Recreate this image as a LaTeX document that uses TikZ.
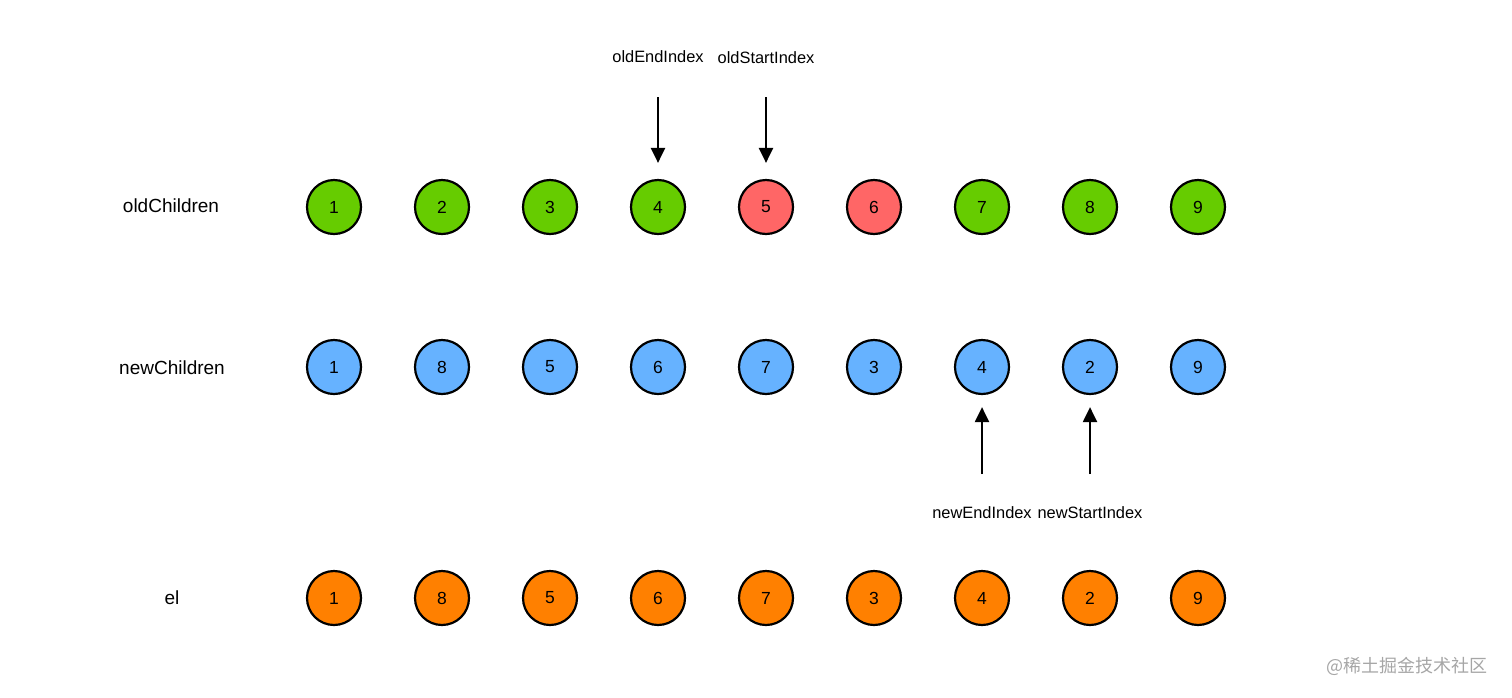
\documentclass[tikz,border=0pt]{standalone}
\usepackage{fontspec}
\setmainfont{Liberation Sans}
\newfontfamily\cjk{Noto Sans CJK SC}
\usetikzlibrary{arrows.meta}
\definecolor{cgreen}{HTML}{66CC00}
\definecolor{cred}{HTML}{FF6666}
\definecolor{cblue}{HTML}{66B2FF}
\definecolor{corange}{HTML}{FF8000}
\begin{document}
\begin{tikzpicture}[x=1pt,y=-1pt,
  ball/.style={circle,draw=black,line width=2.2pt,minimum size=54pt,inner sep=0pt,font=\fontsize{17.5}{17.5}\selectfont},
  rowlabel/.style={font=\fontsize{19}{19}\selectfont},
  idx/.style={font=\fontsize{16.4}{16.4}\selectfont},
  ptr/.style={line width=2.2pt,-{Triangle[length=15pt,width=14pt]}}]
\useasboundingbox (0,0) rectangle (1512,697);
\node[rowlabel] (lold) at (171,206) {oldChildren};
\node[rowlabel] (lnew) at (172,368) {newChildren};
\node[rowlabel] (lel) at (172,598) {el};
\foreach \n/\c [count=\i from 0] in {1/cgreen,2/cgreen,3/cgreen,4/cgreen,5/cred,6/cred,7/cgreen,8/cgreen,9/cgreen}
  \node[ball,fill=\c] (o\i) at (334+108*\i,207) {\n};
\foreach \n [count=\i from 0] in {1,8,5,6,7,3,4,2,9}
  \node[ball,fill=cblue] (n\i) at (334+108*\i,367) {\n};
\foreach \n [count=\i from 0] in {1,8,5,6,7,3,4,2,9}
  \node[ball,fill=corange] (e\i) at (334+108*\i,598) {\n};
\node[idx] (oei) at (658,57) {oldEndIndex};
\node[idx] (osi) at (766,58) {oldStartIndex};
\node[idx] (nei) at (982,513) {newEndIndex};
\node[idx] (nsi) at (1090,513) {newStartIndex};
\coordinate (a1) at (658,97);
\coordinate (a2) at (766,97);
\coordinate (a3) at (982,474);
\coordinate (a4) at (1090,474);
\draw[ptr] (a1) -- ([yshift=16pt]o3.north);
\draw[ptr] (a2) -- ([yshift=16pt]o4.north);
\draw[ptr] (a3) -- ([yshift=-12pt]n6.south);
\draw[ptr] (a4) -- ([yshift=-12pt]n7.south);
\node[font=\cjk\fontsize{18}{18}\selectfont,text=black!35,anchor=east] (wm) at (1491,666) {@稀土掘金技术社区};
\end{tikzpicture}
\end{document}
